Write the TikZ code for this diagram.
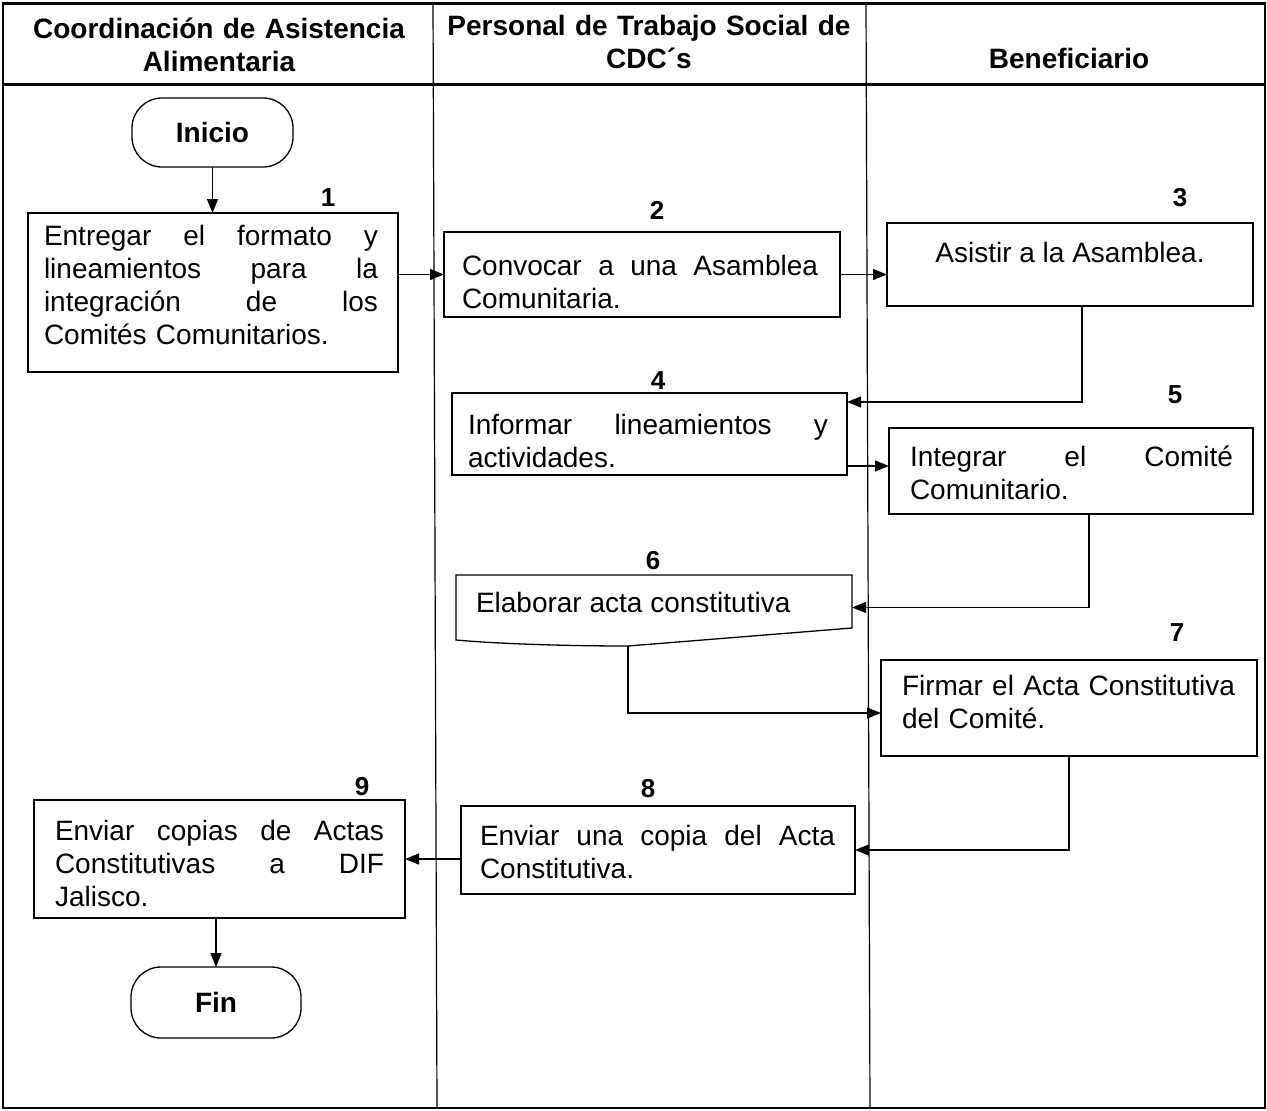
\documentclass[tikz,border=0pt]{standalone}
\usepackage{fontspec}
\setmainfont{Liberation Sans}
\usetikzlibrary{arrows.meta,calc}

% one line set to a fixed width; the \hfill gaps share the spare room
\newcommand{\spreadline}[2]{\leavevmode\hbox to #1{#2}}

\begin{document}
\begin{tikzpicture}[x=1pt,y=-1pt,
  every node/.style={inner sep=0pt, outer sep=0pt},
  stepbox/.style={draw, line width=1.3pt, rectangle, anchor=north west},
  term/.style={draw, line width=1.3pt, rectangle, rounded corners=30pt,
    font=\bfseries\fontsize{28}{33}\selectfont},
  body/.style={font=\fontsize{28}{33}\selectfont, align=left, anchor=base west},
  num/.style={font=\bfseries\fontsize{26}{30}\selectfont},
  head/.style={font=\bfseries\fontsize{28}{33}\selectfont, align=center, anchor=base},
  arr/.style={line width=1.3pt, -{Triangle[length=14pt,width=11pt]}},
  frame/.style={line width=1.2pt}]

\useasboundingbox (0,0) rectangle (1267,1111);

% swimlane frame
\draw[frame] (3,3) -- (3,1108);
\draw[frame] (1265,3) -- (1265,1108);
\draw[frame] (433,3) -- (437,1108);
\draw[frame] (866,3) -- (870,1108);
\draw[line width=3pt] (2,3) -- (1266,3);
\draw[line width=3pt] (2,84) -- (1266,84);
\draw[line width=2pt] (2,1108) -- (1266,1108);

% lane headings
\node[head, text width=420pt] (h1) at (219,38) {Coordinación de Asistencia\\Alimentaria};
\node[head, text width=420pt] (h2) at (649,35) {Personal de Trabajo Social de\\CDC´s};
\node[head, text width=390pt] (h3) at (1069,68) {Beneficiario};

% terminators
\node[term, minimum width=161pt, minimum height=69pt] (inicio) at (212.5,132.5) {Inicio};
\node[term, minimum width=170pt, minimum height=71pt] (fin) at (216,1002.5) {Fin};

% process boxes
\node[stepbox, minimum width=370pt, minimum height=159pt] (b1) at (28,213) {};
\node[stepbox, minimum width=396pt, minimum height=85pt] (b2) at (444,232) {};
\node[stepbox, minimum width=366pt, minimum height=83pt] (b3) at (887,223) {};
\node[stepbox, minimum width=395pt, minimum height=82pt] (b4) at (452,393) {};
\node[stepbox, minimum width=364pt, minimum height=86pt] (b5) at (889,428) {};
\node[minimum width=396pt, minimum height=65pt, anchor=north west] (b6) at (456,575) {};
\node[stepbox, minimum width=376pt, minimum height=96pt] (b7) at (881,660) {};
\node[stepbox, minimum width=394pt, minimum height=88pt] (b8) at (461,806) {};
\node[stepbox, minimum width=371pt, minimum height=118pt] (b9) at (34,800) {};

% document outline of step 6
\draw[line width=1.3pt] (b6.north west) -- (b6.north east) -- (852,628) -- (628,646)
  .. controls (570,646) and (500,644) .. (b6.south west) -- cycle;
\coordinate (b6out) at (628,646);

% step texts
\node[body, text width=334pt] (t1) at (44,245) {%
  \spreadline{334pt}{Entregar\hfill el\hfill formato\hfill y}\\
  \spreadline{334pt}{lineamientos\hfill para\hfill la}\\
  \spreadline{334pt}{integración\hfill de\hfill los}\\
  Comités Comunitarios.};
\node[body, text width=356pt] (t2) at (462,275) {%
  \spreadline{356pt}{Convocar\hfill a\hfill una\hfill Asamblea}\\ Comunitaria.};
\node[body, anchor=base] (t3) at (1070,262) {Asistir a la Asamblea.};
\node[body, text width=360pt] (t4) at (468,434) {%
  \spreadline{360pt}{Informar\hfill lineamientos\hfill y}\\ actividades.};
\node[body, text width=323pt] (t5) at (910,466) {%
  \spreadline{323pt}{Integrar\hfill el\hfill Comité}\\ Comunitario.};
\node[body] (t6) at (476,612) {Elaborar acta constitutiva};
\node[body, text width=333pt] (t7) at (902,695) {%
  \spreadline{333pt}{Firmar\hfill el\hfill Acta\hfill Constitutiva}\\ del Comité.};
\node[body, text width=355pt] (t8) at (480,845) {%
  \spreadline{355pt}{Enviar\hfill una\hfill copia\hfill del\hfill Acta}\\ Constitutiva.};
\node[body, text width=329pt] (t9) at (55,840) {%
  \spreadline{329pt}{Enviar\hfill copias\hfill de\hfill Actas}\\
  \spreadline{329pt}{Constitutivas\hfill a\hfill DIF}\\ Jalisco.};

% step numbers
\node[num] (n1) at (328,198) {1};
\node[num] (n2) at (657,210) {2};
\node[num] (n3) at (1180,198) {3};
\node[num] (n4) at (658,381) {4};
\node[num] (n5) at (1175,395) {5};
\node[num] (n6) at (653,561) {6};
\node[num] (n7) at (1177,633) {7};
\node[num] (n8) at (648,789) {8};
\node[num] (n9) at (362,787) {9};

% flow
\draw[arr] (inicio.south) -- (inicio.south |- b1.north);
\draw[arr] (b2.west -| b1.east) -- (b2.west);
\draw[arr] (b2.east) -- (b2.east -| b3.west);
\draw[arr] ([xshift=12pt]b3.south) |- ([yshift=32pt]b4.east);
\draw[arr] ([yshift=-32pt]b4.east) -- ([yshift=-32pt]b4.east -| b5.west);
\draw[arr] ([xshift=18pt]b5.south) |- (b6.east);
\draw[arr] (b6out) |- ([yshift=-5pt]b7.west);
\draw[arr] (b7.south) |- (b8.east);
\draw[arr] (b9.east -| b8.west) -- (b9.east);
\draw[arr] (fin.north |- b9.south) -- (fin.north);

\end{tikzpicture}
\end{document}
